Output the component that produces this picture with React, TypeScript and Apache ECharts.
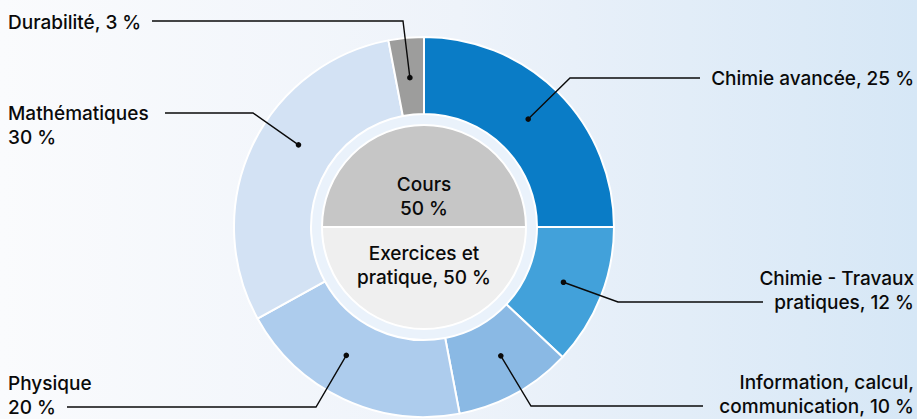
import React, { useEffect, useRef } from "react";
import * as echarts from "echarts";

// ---- data ----
const subjects = [
  "Chimie avancée",
  "Chimie - Travaux pratiques",
  "Information, calcul, communication",
  "Physique",
  "Mathématiques",
  "Durabilité",
];
const subjectLabels = [
  "Chimie avancée, 25 %",
  "Chimie - Travaux\npratiques, 12 %",
  "Information, calcul,\ncommunication, 10 %",
  "Physique\n20 %",
  "Mathématiques\n30 %",
  "Durabilité, 3 %",
];
const subjectValues = [25, 12, 10, 20, 30, 3];
const subjectColors = ["#0a7cc6", "#42a1da", "#8ab9e4", "#adcced", "#d3e2f4", "#9d9d9c"];

const formats = ["Cours", "Exercices et pratique"];
const formatLabels = ["Cours\n50 %", "Exercices et\npratique, 50 %"];
const formatValues = [50, 50];
const formatColors = ["#c6c6c6", "#efefef"];

// ---- layout ----
const CX = 424;
const CY = 227;
const R_OUT = 190;
const R_RING_IN = 113;
const R_INNER = 102;
const R_DOT = 150;
// per label: text anchor, horizontal line y, bend x, line end x, anchor angle shift (deg)
const labelLayouts = [
  { x: 914, y: 78, align: "right", lineY: 78, bendX: 570, endX: 700, shift: -1 },
  { x: 914, y: 290, align: "right", lineY: 302, bendX: 618, endX: 763, shift: 0 },
  { x: 914, y: 394, align: "right", lineY: 406, bendX: 531, endX: 703, shift: -2 },
  { x: 8, y: 395, align: "left", lineY: 407, bendX: 316, endX: 67, shift: 6 },
  { x: 8, y: 125, align: "left", lineY: 113, bendX: 253, endX: 165, shift: 8 },
  { x: 8, y: 22, align: "left", lineY: 21, bendX: 403, endX: 152, shift: 0 },
];

function anchorPoint(i: number): [number, number] {
  const total = subjectValues.reduce((a, b) => a + b, 0);
  let before = 0;
  for (let k = 0; k < i; k++) before += subjectValues[k];
  const midDeg = ((before + subjectValues[i] / 2) / total) * 360 + labelLayouts[i].shift;
  const a = (midDeg * Math.PI) / 180;
  return [CX + R_DOT * Math.sin(a), CY - R_DOT * Math.cos(a)];
}

const FONT = "Inter, 'Noto Sans', sans-serif";
const FONT_SIZE = 19;
const INK = "#0a0a0a";

export default function App() {
  const ref = useRef<HTMLDivElement>(null);
  useEffect(() => {
    if (!ref.current) return;
    const chart = echarts.init(ref.current, undefined, { renderer: "svg" });
    const dots = subjects.map((_, i) => {
      const [x, y] = anchorPoint(i);
      return {
        type: "circle",
        shape: { cx: x, cy: y, r: 2.8 },
        style: { fill: INK },
        z: 100,
      };
    });
    const subjectData = (transparent: boolean) =>
      subjects.map((name, i) => ({
        name,
        value: subjectValues[i],
        itemStyle: { color: transparent ? "rgba(0,0,0,0)" : subjectColors[i] },
      }));
    chart.setOption({
      animation: false,
      backgroundColor: {
        type: "linear",
        x: 0,
        y: 0,
        x2: 1,
        y2: 0,
        colorStops: [
          { offset: 0, color: "#fafbfd" },
          { offset: 0.5, color: "#eef3fa" },
          { offset: 1, color: "#d6e7f6" },
        ],
      },
      graphic: dots,
      series: [
        {
          type: "pie",
          name: "ring",
          center: [CX, CY],
          radius: [R_INNER, R_RING_IN],
          silent: true,
          label: { show: false },
          labelLine: { show: false },
          data: [{ value: 1, itemStyle: { color: "#eaf2fb" } }],
        },
        {
          type: "pie",
          name: "Matières",
          z: 2,
          center: [CX, CY],
          radius: [R_RING_IN, R_OUT],
          startAngle: 90,
          clockwise: true,
          itemStyle: { borderColor: "#ffffff", borderWidth: 2 },
          label: { show: false },
          labelLine: { show: false },
          data: subjectData(false),
        },
        {
          type: "pie",
          name: "Matières (étiquettes)",
          z: 5,
          silent: true,
          center: [CX, CY],
          radius: [R_RING_IN, R_OUT],
          startAngle: 90,
          clockwise: true,
          avoidLabelOverlap: false,
          itemStyle: { borderWidth: 0 },
          label: {
            show: true,
            position: "outside",
            formatter: (p: any) => subjectLabels[p.dataIndex],
            fontFamily: FONT,
            fontSize: FONT_SIZE,
            fontWeight: 500,
            color: INK,
            lineHeight: 24,
          },
          labelLine: {
            show: true,
            lineStyle: { color: INK, width: 1.4 },
          },
          labelLayout: (params: any) => {
            const i = params.dataIndex;
            const L = labelLayouts[i];
            const [ax, ay] = anchorPoint(i);
            return {
              x: L.x,
              y: L.y,
              align: L.align,
              verticalAlign: "middle",
              labelLinePoints: [
                [ax, ay],
                [L.bendX, L.lineY],
                [L.endX, L.lineY],
              ],
            };
          },
          data: subjectData(true),
        },
        {
          type: "pie",
          name: "Format",
          center: [CX, CY],
          radius: [0, R_INNER],
          startAngle: 180,
          clockwise: true,
          itemStyle: { borderColor: "#ffffff", borderWidth: 2 },
          label: {
            show: true,
            position: "inside",
            formatter: (p: any) => formatLabels[p.dataIndex],
            fontFamily: FONT,
            fontSize: FONT_SIZE,
            fontWeight: 500,
            color: INK,
            lineHeight: 24,
            align: "center",
          },
          labelLine: { show: false },
          labelLayout: (params: any) => ({
            x: CX,
            y: params.dataIndex === 0 ? CY - 31 : CY + 38,
            align: "center",
            verticalAlign: "middle",
          }),
          data: formats.map((name, i) => ({
            name,
            value: formatValues[i],
            itemStyle: { color: formatColors[i] },
          })),
        },
      ],
    });
    return () => chart.dispose();
  }, []);
  return (
    <div
      ref={ref}
      style={{ position: "fixed", left: 0, top: 0, width: 917, height: 419 }}
    />
  );
}
